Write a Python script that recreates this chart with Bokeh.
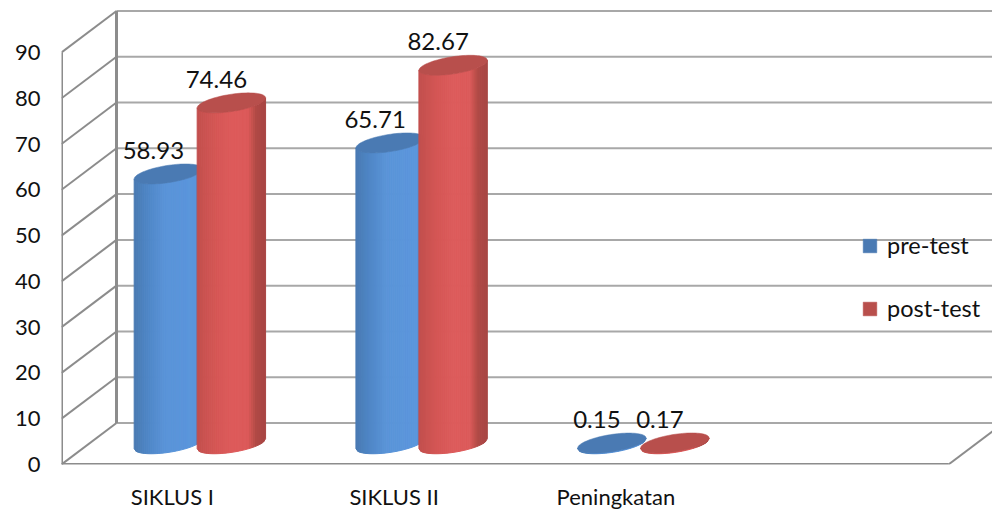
import numpy as np
from bokeh.embed import file_html
from bokeh.resources import INLINE
from bokeh.plotting import figure
from bokeh.models import (ColumnDataSource, FixedTicker, Legend, LegendItem, Range1d)
from bokeh.core.properties import value

categories = ["SIKLUS I", "SIKLUS II", "Peningkatan", ""]
pre_test = [58.93, 65.71, 0.15]
post_test = [74.46, 82.67, 0.17]
y_ticks = [0, 10, 20, 30, 40, 50, 60, 70, 80, 90]
series_names = ["pre-test", "post-test"]

FONT = "Lato"
W, H = 992, 512
LEFT, BOTTOM = 61, 48
PX_X = 221.75                    # pixels per category
PX_Y = 4.578                     # pixels per unit of value
DEPTH_X = 55 / PX_X              # how far the back wall sits from the front plane
DEPTH_Y = 41.5 / PX_Y
BAR_W = 34.2 / PX_X              # semi-axes of the cylinder's tilted ellipse
BAR_TILT = 5.0 / PX_Y
BAR_K = 8.66 / PX_Y
BAR_STEP = 31.5 / PX_X

x_end = (W - LEFT) / PX_X
y_end = (H - BOTTOM) / PX_Y

p = figure(width=W, height=H, output_backend="svg", toolbar_location=None,
           x_range=Range1d(0, x_end), y_range=Range1d(0, y_end),
           min_border_left=LEFT, min_border_bottom=BOTTOM, min_border_top=0, min_border_right=0,
           outline_line_color=None, background_fill_color="white", border_fill_color="white")
p.grid.visible = False

for ax in (p.xaxis, p.yaxis):
    ax.axis_line_color = None
    ax.major_tick_line_color = None
    ax.minor_tick_line_color = None
    ax.major_tick_out = 0
    ax.major_tick_in = 0
    ax.minor_tick_out = 0
    ax.minor_tick_in = 0
    ax.major_label_text_font = FONT
    ax.major_label_text_color = "#111111"

p.yaxis.ticker = FixedTicker(ticks=y_ticks)
p.yaxis.major_label_standoff = 21
p.yaxis.major_label_text_font_size = "22px"

tick_pos = [i + 0.5 for i in range(len(categories) - 1)]
p.xaxis.ticker = FixedTicker(ticks=tick_pos)
p.xaxis.major_label_overrides = {t: c for t, c in zip(tick_pos, categories)}
p.xaxis.major_label_standoff = 18
p.xaxis.major_label_text_font_size = "22px"

GRID = "#a8a8a8"
WALL = "#8c8c8c"

# back wall gridlines and the left wall's diagonals
n_cat = len(categories)
for v in y_ticks:
    p.line([DEPTH_X, x_end], [v + DEPTH_Y, v + DEPTH_Y], line_color=GRID, line_width=2)
    p.line([0, DEPTH_X], [v, v + DEPTH_Y], line_color=WALL, line_width=2)
top = y_ticks[-1]
p.line([DEPTH_X, DEPTH_X], [DEPTH_Y, top + DEPTH_Y], line_color=WALL, line_width=3)
p.line([0, 0], [0, top], line_color=WALL, line_width=3)
p.line([0, n_cat], [0, 0], line_color=WALL, line_width=3)
p.line([n_cat, n_cat + DEPTH_X], [0, DEPTH_Y], line_color=WALL, line_width=2)

# horizontal shading across a cylinder: position (0..1), colour
BLUE_STOPS = [(0.0, "#4879b2"), (0.2, "#4f86c6"), (0.45, "#5a94d8"), (0.9, "#5b96dc"), (0.95, "#4f82bf"), (1.0, "#4a7ab3")]
RED_STOPS = [(0.0, "#c24f4d"), (0.3, "#d65756"), (0.5, "#dd5b5b"), (0.75, "#dc5a5a"), (0.8, "#c9534f"), (0.87, "#b04a46"), (1.0, "#a84644")]
BLUE_TOP = "#4a7ab3"
RED_TOP = "#b84f4c"


def shade(stops, f):
    pos = [s[0] for s in stops]
    rgb = np.array([[int(s[1][i:i + 2], 16) for i in (1, 3, 5)] for s in stops], dtype=float)
    c = [np.interp(f, pos, rgb[:, k]) for k in range(3)]
    return "#%02x%02x%02x" % tuple(int(round(x)) for x in c)


def cylinder(cx, val, stops, top_color):
    base = DEPTH_Y / 2
    strips = 34
    left, right = cx - BAR_W, cx + BAR_W
    xs = np.linspace(left, right, strips + 1)
    ts = 2 * np.pi - np.arccos(np.clip((xs - cx) / BAR_W, -1, 1))
    lows = base + BAR_TILT * np.cos(ts) + BAR_K * np.sin(ts)
    sx, sy, sc = [], [], []
    for i in range(strips):
        sx.append([xs[i], xs[i + 1], xs[i + 1], xs[i]])
        sy.append([lows[i], lows[i + 1], lows[i + 1] + val, lows[i] + val])
        sc.append(shade(stops, (i + 0.5) / strips))
    p.patches(sx, sy, fill_color=sc, line_color=sc, line_width=1)
    t = np.linspace(0, 2 * np.pi, 90)
    return p.patch(cx + BAR_W * np.cos(t),
                   base + val + BAR_TILT * np.cos(t) + BAR_K * np.sin(t),
                   fill_color=top_color, line_color=top_color, line_width=0.5)


label_x, label_y, label_text = [], [], []
legend_glyphs = []
for s, (vals, stops, top_c) in enumerate([(pre_test, BLUE_STOPS, BLUE_TOP), (post_test, RED_STOPS, RED_TOP)]):
    sign = -1 if s == 0 else 1
    glyph = None
    for i, v in enumerate(vals):
        cx = i + 0.5 + DEPTH_X / 2 + sign * BAR_STEP
        glyph = cylinder(cx, v, stops, top_c)
        label_x.append(cx - 15 / PX_X)
        label_y.append(v + DEPTH_Y / 2 + 23.5 / PX_Y)
        label_text.append(f"{v:.2f}")
    legend_glyphs.append(glyph)

p.text(x="x", y="y", text="t", source=ColumnDataSource(dict(x=label_x, y=label_y, t=label_text)),
       text_font=value(FONT), text_font_size="24px", text_color="#111111",
       text_align="center", text_baseline="middle")

legend = Legend(items=[LegendItem(label=n, renderers=[g]) for n, g in zip(series_names, legend_glyphs)],
                location=(800, 142), orientation="vertical", background_fill_alpha=0, border_line_color=None,
                glyph_width=17, glyph_height=17, label_standoff=9, spacing=35, padding=10, margin=0,
                label_text_font=FONT, label_text_font_size="23.5px", label_text_color="#111111")
p.add_layout(legend)

open("out.html", "w").write(file_html(p, INLINE))
